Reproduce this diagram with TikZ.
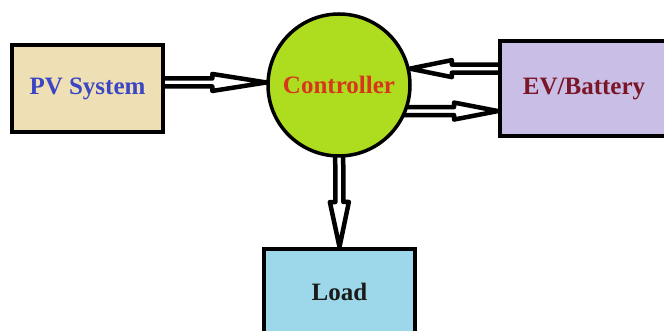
\documentclass[tikz,border=0pt]{standalone}
\usepackage{fontspec}
\setmainfont{Liberation Serif}
\usetikzlibrary{calc}
\pgfdeclarelayer{background}
\pgfsetlayers{background,main}
\definecolor{pvfill}{HTML}{EEE0B4}
\definecolor{pvtext}{HTML}{3C46C4}
\definecolor{ctrlfill}{HTML}{AEDC1E}
\definecolor{ctrltext}{HTML}{D8361A}
\definecolor{evfill}{HTML}{C9BEE6}
\definecolor{evtext}{HTML}{7A1628}
\definecolor{loadfill}{HTML}{9CD8E9}
\definecolor{loadtext}{HTML}{1A1A1A}
\tikzset{
  blk/.style={draw=black, line width=4pt, inner sep=0pt,
    font=\bfseries\fontsize{25}{29}\selectfont},
  ctl/.style={circle, draw=black, line width=3.5pt, fill=ctrlfill, text=ctrltext,
    minimum size=142pt, inner sep=0pt, font=\bfseries\fontsize{25}{29}\selectfont},
  arrowline/.style={draw=black, fill=white, line width=4.5pt, line join=round},
}
% #1 tail, #2 tip, #3 shaft half-width, #4 head half-width, #5 head length
\newcommand{\blockarr}[5]{%
  \coordinate (ba-p) at ($(#2)!#5!(#1)$);
  \path[arrowline] ($(#1)!#3!90:(#2)$) -- ($(ba-p)!#3!90:(#2)$)
    -- ($(ba-p)!#4!90:(#2)$) -- (#2) -- ($(ba-p)!#4!-90:(#2)$)
    -- ($(ba-p)!#3!-90:(#2)$) -- ($(#1)!#3!-90:(#2)$);
}
\begin{document}
\begin{tikzpicture}[x=1pt,y=1pt]
\useasboundingbox (0,0) rectangle (664,331);
\begin{pgfonlayer}{background}
  \fill[white] (0,0) rectangle (664,331);
\end{pgfonlayer}

\node[blk, fill=pvfill, text=pvtext, minimum width=151pt, minimum height=87pt]
  (pv) at (87.5,242.5) {PV System};
\node[ctl] (ctrl) at (339,246) {Controller};
\node[blk, fill=evfill, text=evtext, minimum width=168pt, minimum height=95pt]
  (ev) at (584,242.5) {EV/Battery};
\node[blk, fill=loadfill, text=loadtext, minimum width=151pt, minimum height=85pt]
  (load) at (339.5,39.5) {Load};

\coordinate (pvtail) at (pv.center |- ctrl.178);
\coordinate (evin) at (ev.center |- ctrl.13.5);
\coordinate (evouttail) at (ctrl.center |- ctrl.-21.7);
\coordinate (evout) at (ev.west |- ctrl.-21.7);

\begin{pgfonlayer}{background}
  \blockarr{pvtail}{ctrl.178}{4pt}{8.5pt}{54pt}
  \blockarr{evin}{ctrl.13.5}{4pt}{8.5pt}{42pt}
  \blockarr{evouttail}{evout}{4pt}{8.5pt}{44pt}
  \blockarr{ctrl.center}{load.north}{4pt}{9.5pt}{45pt}
\end{pgfonlayer}
\end{tikzpicture}
\end{document}
